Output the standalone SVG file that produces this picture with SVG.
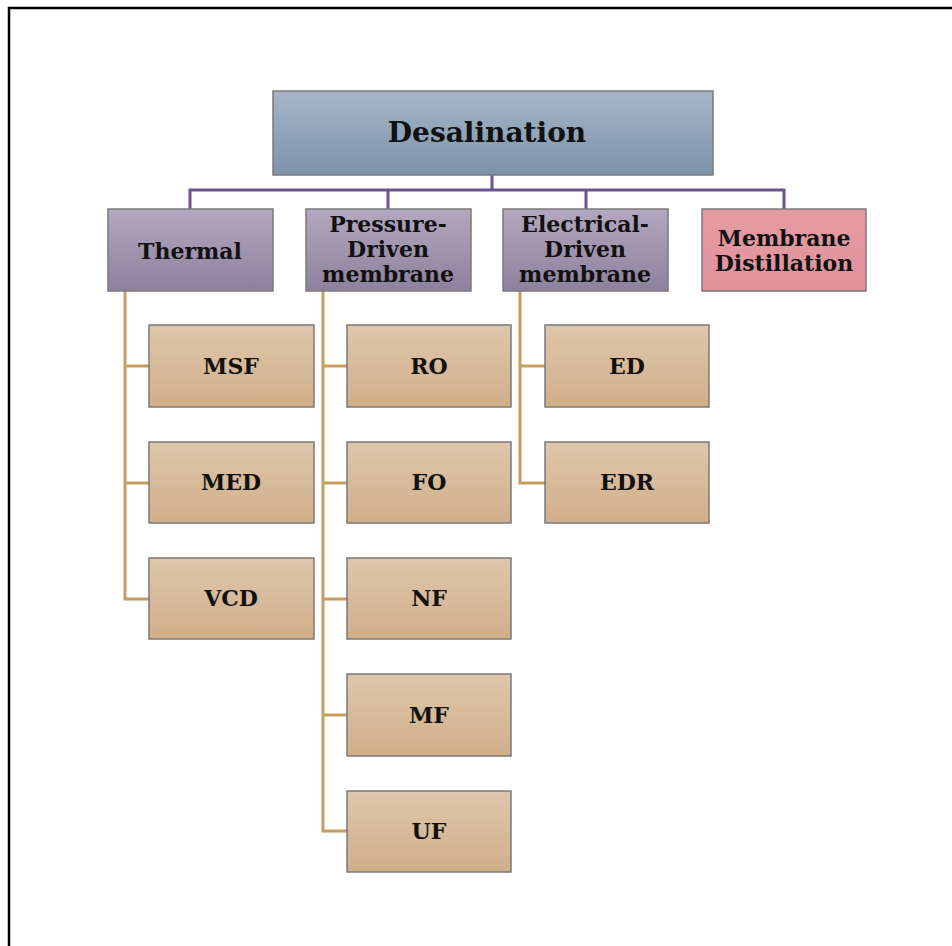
<svg xmlns="http://www.w3.org/2000/svg" width="952" height="946" viewBox="0 0 952 946">
<defs>
<linearGradient id="gBlue" x1="0" y1="0" x2="0" y2="1"><stop offset="0" stop-color="#a5b5c7"/><stop offset="1" stop-color="#7d93aa"/></linearGradient>
<linearGradient id="gPurple" x1="0" y1="0" x2="0" y2="1"><stop offset="0" stop-color="#b3a8bf"/><stop offset="1" stop-color="#8e809d"/></linearGradient>
<linearGradient id="gPink" x1="0" y1="0" x2="0" y2="1"><stop offset="0" stop-color="#e59ba4"/><stop offset="1" stop-color="#e0929b"/></linearGradient>
<linearGradient id="gTan" x1="0" y1="0" x2="0" y2="1"><stop offset="0" stop-color="#dec7ac"/><stop offset="1" stop-color="#d1ae89"/></linearGradient>
</defs>
<style>
.box{stroke:#7a7a7a;stroke-width:1.5}
.t{font-family:"DejaVu Serif","Liberation Serif",serif;font-weight:bold;fill:#111;text-anchor:middle}
.t1{font-size:28px}
.t2{font-size:22px}
.t3{font-size:22px}
.cp{fill:none;stroke:#6e548c;stroke-width:3}
.ct{fill:none;stroke:#c89c5e;stroke-width:3}
</style>
<rect x="0" y="0" width="952" height="946" fill="#fff"/>
<path d="M9,946 V8 H952" fill="none" stroke="#000" stroke-width="2.5"/>
<g id="connectors">
<path class="cp" d="M492,175 V190 M190,209 V190 H784 V209 M388,190 V209 M586,190 V209"/>
<path class="ct" d="M125,291 V599 H149 M125,366 H149 M125,483 H149"/>
<path class="ct" d="M323,291 V831 H347 M323,366 H347 M323,483 H347 M323,599 H347 M323,715 H347"/>
<path class="ct" d="M520,291 V483 H545 M520,366 H545"/>
</g>
<g id="desalination"><rect class="box" x="273" y="91" width="440" height="84" fill="url(#gBlue)"/><text class="t t1" x="487" y="142">Desalination</text></g>
<g id="thermal"><rect class="box" x="108" y="209" width="165" height="82" fill="url(#gPurple)"/><text class="t t2" x="190" y="259">Thermal</text></g>
<g id="pressure"><rect class="box" x="306" y="209" width="165" height="82" fill="url(#gPurple)"/><text class="t t2" x="388" y="232">Pressure-</text><text class="t t2" x="388" y="257">Driven</text><text class="t t2" x="388" y="282">membrane</text></g>
<g id="electrical"><rect class="box" x="503" y="209" width="165" height="82" fill="url(#gPurple)"/><text class="t t2" x="585" y="232">Electrical-</text><text class="t t2" x="585" y="257">Driven</text><text class="t t2" x="585" y="282">membrane</text></g>
<g id="md"><rect class="box" x="702" y="209" width="164" height="82" fill="url(#gPink)"/><text class="t t2" x="784" y="246">Membrane</text><text class="t t2" x="784" y="271">Distillation</text></g>
<g id="msf"><rect class="box" x="149" y="325" width="165" height="82" fill="url(#gTan)"/><text class="t t3" x="231" y="374">MSF</text></g>
<g id="med"><rect class="box" x="149" y="442" width="165" height="81" fill="url(#gTan)"/><text class="t t3" x="231" y="490">MED</text></g>
<g id="vcd"><rect class="box" x="149" y="558" width="165" height="81" fill="url(#gTan)"/><text class="t t3" x="231" y="606">VCD</text></g>
<g id="ro"><rect class="box" x="347" y="325" width="164" height="82" fill="url(#gTan)"/><text class="t t3" x="429" y="374">RO</text></g>
<g id="fo"><rect class="box" x="347" y="442" width="164" height="81" fill="url(#gTan)"/><text class="t t3" x="429" y="490">FO</text></g>
<g id="nf"><rect class="box" x="347" y="558" width="164" height="81" fill="url(#gTan)"/><text class="t t3" x="429" y="606">NF</text></g>
<g id="mf"><rect class="box" x="347" y="674" width="164" height="82" fill="url(#gTan)"/><text class="t t3" x="429" y="723">MF</text></g>
<g id="uf"><rect class="box" x="347" y="791" width="164" height="81" fill="url(#gTan)"/><text class="t t3" x="429" y="839">UF</text></g>
<g id="ed"><rect class="box" x="545" y="325" width="164" height="82" fill="url(#gTan)"/><text class="t t3" x="627" y="374">ED</text></g>
<g id="edr"><rect class="box" x="545" y="442" width="164" height="81" fill="url(#gTan)"/><text class="t t3" x="627" y="490">EDR</text></g>
</svg>
